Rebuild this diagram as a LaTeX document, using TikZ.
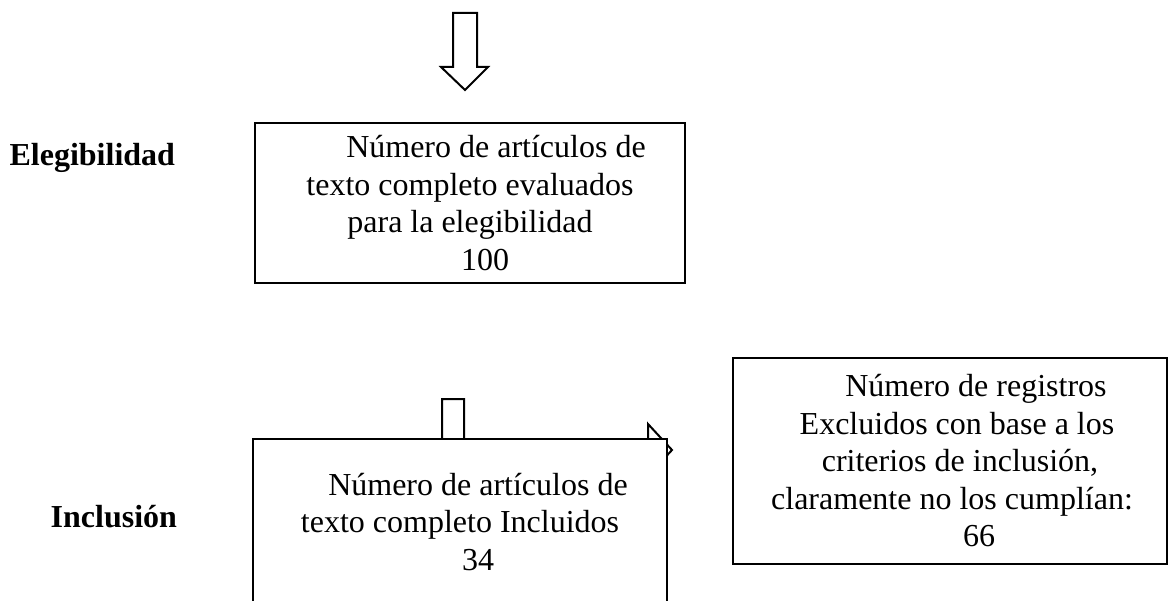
\documentclass[tikz,border=0pt]{standalone}
\usepackage{fontspec}
\setmainfont{Liberation Serif}

\begin{document}
\begin{tikzpicture}
		[x=1pt, y=-1pt, line width=2pt,
		main/.style = {draw, line width=2.4pt, fill=white, align=center, inner sep=0pt, font=\fontsize{32}{37.5}\selectfont},
		lbl/.style = {anchor=east, inner sep=0pt, font=\fontsize{32}{37.5}\selectfont\bfseries},
		blk/.style = {draw, fill=white, line join=miter}]
	\useasboundingbox (0,0) rectangle (1169,601);
	\clip (0,0) rectangle (1169,601);
	\draw[blk] (453,13) -- (477,13) -- (477,67) -- (488,67) -- (465,90) -- (441,67) -- (453,67) -- cycle;
	\draw[blk] (442,399) -- (464,399) -- (464,450) -- (475,450) -- (453,472) -- (431,450) -- (442,450) -- cycle;
	\draw[blk] (535,439) -- (648,439) -- (648,424) -- (672,450) -- (648,476) -- (648,461) -- (535,461) -- cycle;
	\node[lbl] (1) at (176,158) {Elegibilidad};
	\node[main, minimum width=430pt, minimum height=160pt] (2) at (470,203)
		{\hspace*{52pt}Número de artículos de\\ texto completo evaluados\\ para la elegibilidad\\ \hspace*{30pt}100};
	\node[lbl] (3) at (178,517) {Inclusión};
	\node[main, minimum width=414pt, minimum height=166pt] (4) at (460,522)
		{\hspace*{36pt}Número de artículos de\\ texto completo Incluidos\\ \hspace*{36pt}34};
	\node[main, minimum width=434pt, minimum height=206pt] (5) at (950,461)
		{\hspace*{52pt}Número de registros\\ \hspace*{14pt}Excluidos con base a los\\ \hspace*{20pt}criterios de inclusión,\\ \hspace*{4pt}claramente no los cumplían:\\ \hspace*{58pt}66};
\end{tikzpicture}
\end{document}
